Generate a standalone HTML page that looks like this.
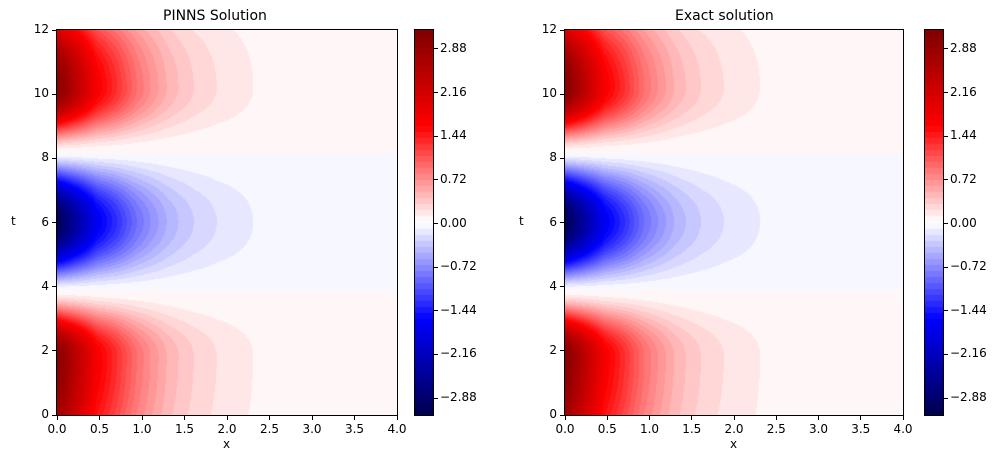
<!DOCTYPE html><html><head><style>
body{margin:0;background:#fff;width:1005px;height:468px;overflow:hidden;position:relative;font-family:"DejaVu Sans","Liberation Sans",sans-serif;font-size:12px;color:#000}
.a{position:absolute}
canvas{position:absolute}
.box{position:absolute;border:1px solid #000;box-sizing:border-box}
.t{position:absolute;white-space:nowrap}
</style></head><body>
<canvas id="c1" class="a" style="left:57px;top:30px" width="340" height="385"></canvas>
<canvas id="c2" class="a" style="left:565px;top:30px" width="338" height="385"></canvas>
<canvas id="b1" class="a" style="left:415px;top:30px" width="18" height="385"></canvas>
<canvas id="b2" class="a" style="left:925px;top:30px" width="18" height="385"></canvas>
<div class="box" style="left:56px;top:29px;width:342px;height:387px"></div>
<div class="box" style="left:564px;top:29px;width:340px;height:387px"></div>
<div class="box" style="left:414px;top:29px;width:20px;height:387px"></div>
<div class="box" style="left:924px;top:29px;width:20px;height:387px"></div>
<div class="t" style="left:163px;top:8px;font-size:14px">PINNS Solution</div>
<div class="t" style="left:675px;top:8px;font-size:14px">Exact solution</div>
<div id="lab"></div>
<script>
function cmap(v){
 var s=[[0,0,0,.3],[.25,0,0,1],[.5,1,1,1],[.75,1,0,0],[1,.5,0,0]];
 v=Math.max(0,Math.min(1,v));
 for(var i=0;i<4;i++){if(v<=s[i+1][0]){var f=(v-s[i][0])/(s[i+1][0]-s[i][0]);return [0,1,2].map(k=>Math.round(255*(s[i][k+1]+f*(s[i+1][k+1]-s[i][k+1]))));}}
 return [128,0,0];}
var vmin=-3.2,vmax=3.2,step=0.1;
function interp(T,x){for(var i=0;i<T.length-1;i++){if(x<=T[i+1][0]){var a=T[i],b=T[i+1],r=(x-a[0])/(b[0]-a[0]);return a[1]+r*(b[1]-a[1]);}}return T[T.length-1][1];}
var P=[[0,3.15],[0.47,1.7],[0.59,1.5],[0.71,1.3],[0.82,1.1],[0.94,0.9],[1.1,0.7],[1.29,0.5],[1.43,0.4],[1.61,0.3],[1.88,0.2],[2.31,0.1],[3,0.04],[4,0.02]];
function f(x){return interp(P,x);}
function s(z,w,a){return Math.pow(Math.sin(Math.PI/2*Math.min(z/w,1)),a);}
function g(t){
 if(t<3.9){if(t<1.85)return 1-0.12*Math.pow((1.85-t)/1.85,2);return s(3.9-t,2.05,1.6);}
 if(t<8.15){var z=Math.min(t-3.9,8.15-t);return -s(z,2.125,1.3);}
 if(t>10.2)return 1-0.35*Math.pow((t-10.2)/1.8,2);return s(t-8.15,2.05,1.6);}
function u(x,t){return g(t)*f(x);}
function q(v){if(v>3.15)v=3.15;if(v<-3.15)v=-3.15;var k=Math.floor(Math.abs(v)/step);var m=(k+0.5)*step*Math.sign(v);return cmap((m-vmin)/(vmax-vmin));}
function draw(id,W){var c=document.getElementById(id),x=c.getContext('2d'),im=x.createImageData(W,385);
 for(var j=0;j<385;j++){var t=12*(384.5-j)/385;for(var i=0;i<W;i++){var xx=4*(i+.5)/W;var col=q(u(xx,t));var p=4*(j*W+i);im.data[p]=col[0];im.data[p+1]=col[1];im.data[p+2]=col[2];im.data[p+3]=255;}}
 x.putImageData(im,0,0);}
draw('c1',340);draw('c2',338);
function bar(id){var c=document.getElementById(id),x=c.getContext('2d');for(var j=0;j<385;j++){var v=vmax-(vmax-vmin)*(j+.5)/385;var col=q(v);x.fillStyle='rgb('+col+')';x.fillRect(0,j,18,1);}}
bar('b1');bar('b2');
var h='';
function tk(l,tp,w,ht){h+='<div class="a" style="left:'+l+'px;top:'+tp+'px;width:'+w+'px;height:'+ht+'px;background:#000"></div>';}
function tx(l,tp,s,al){h+='<div class="t" style="left:'+l+'px;top:'+tp+'px;'+(al?'width:40px;text-align:'+al:'')+'">'+s+'</div>';}
[[57,340],[565,338]].forEach(function(p){
 for(var i=0;i<=8;i++){var X=p[0]+p[1]*i/8;tk(X-0.5,416,1,4);tx(X-20,422,(i*0.5).toFixed(1),'center');}
 for(var i=0;i<=6;i++){var Y=415-385*i/6;tk(p[0]-5,Y-0.5,4,1);tx(p[0]-48,Y-8,String(i*2),'right');}
 tx(p[0]+p[1]/2-4,437,'x');
 h+='<div class="t" style="left:'+(p[0]-46)+'px;top:214px">t</div>';
});
[433,943].forEach(function(L){
 for(var k=-4;k<=4;k++){var v=k*0.72;var Y=223.5-v*60.6;tk(L+1,Y-0.5,4,1);tx(L+7,Y-8,(v<0?'\u2212':'')+Math.abs(v).toFixed(2));}
});
document.getElementById('lab').innerHTML=h;
</script>
</body></html>
